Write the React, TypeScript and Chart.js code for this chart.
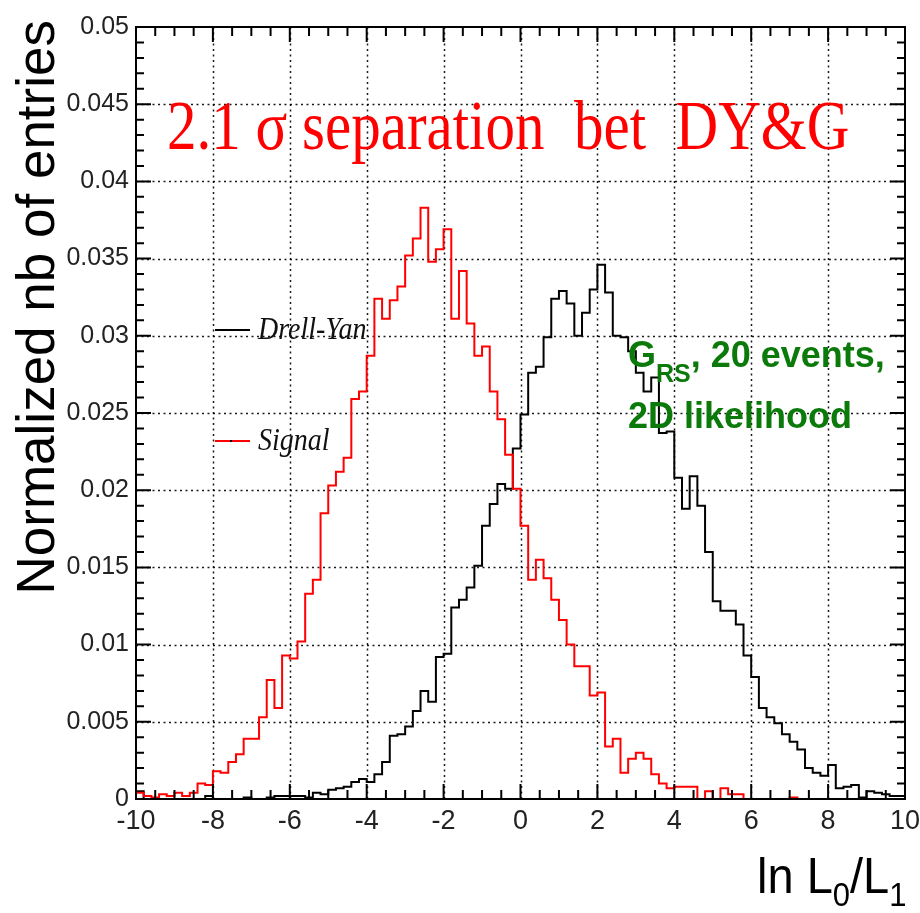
import React, { useEffect, useRef } from 'react';
import { Chart, registerables } from 'chart.js';

Chart.register(...registerables);

// ---- data ----
const X_MIN = -10;
const X_MAX = 10;
const BIN_WIDTH = 0.2;

// Drell-Yan (black), 100 bins of 0.2 starting at -10
const drellYan = [
  0, 0.0005, 0, 0, 0, 0, 0, 0, 0, 0,
  0.0002, 0, 0, 0, 0, 0.0001, 0, 0, 0.0001, 0.0002,
  0.0002, 0.0002, 0.0002, 0.0001, 0.0004, 0.0003, 0.0006, 0.0007, 0.0008, 0.0011,
  0.0013, 0.0011, 0.0016, 0.0024, 0.0041, 0.0042, 0.0047, 0.0057, 0.0070, 0.0063,
  0.0092, 0.0094, 0.0124, 0.0129, 0.0137, 0.0151, 0.0177, 0.0191, 0.0204, 0.0201,
  0.0227, 0.0249, 0.0276, 0.0280, 0.0299, 0.0324, 0.0329, 0.0321, 0.0300, 0.0315,
  0.0330, 0.0346, 0.0328, 0.0300, 0.0299, 0.0290, 0.0276, 0.0264, 0.0273, 0.0237,
  0.0238, 0.0208, 0.0188, 0.0209, 0.0190, 0.0160, 0.0128, 0.0122, 0.0122, 0.0113,
  0.0093, 0.0079, 0.0059, 0.0053, 0.0049, 0.0042, 0.0037, 0.0032, 0.0020, 0.0017,
  0.0015, 0.0022, 0.0007, 0.0008, 0.0009, 0.0001, 0.0005, 0.0004, 0.0003, 0.0002,
];

// Signal (red)
const signal = [
  0, 0.0004, 0.0002, 0.0001, 0.0003, 0.0002, 0.0004, 0.0002, 0.0004, 0.0010,
  0.0009, 0.0018, 0.0017, 0.0024, 0.0029, 0.0039, 0.0039, 0.0053, 0.0077, 0.0059,
  0.0093, 0.0091, 0.0102, 0.0133, 0.0142, 0.0185, 0.0203, 0.0212, 0.0221, 0.0259,
  0.0264, 0.0287, 0.0324, 0.0311, 0.0323, 0.0332, 0.0352, 0.0363, 0.0383, 0.0348,
  0.0356, 0.0369, 0.0311, 0.0342, 0.0308, 0.0287, 0.0293, 0.0264, 0.0246, 0.0223,
  0.0201, 0.0177, 0.0142, 0.0155, 0.0143, 0.0129, 0.0116, 0.0100, 0.0086, 0.0086,
  0.0067, 0.0069, 0.0034, 0.0039, 0.0017, 0.0026, 0.0030, 0.0026, 0.0016, 0.0010,
  0.0007, 0.0008, 0.0008, 0.0008, 0, 0.0005, 0, 0.0007, 0.0003, 0.0003,
  0, 0, 0, 0, 0, 0, 0.0001, 0, 0, 0,
  0, 0, 0, 0, 0, 0, 0, 0, 0, 0,
];

const SERIES_NAMES = ['Drell-Yan', 'Signal'];
const TITLE = '2.1 \u03c3 separation  bet  DY&G';
const Y_TITLE = 'Normalized nb of entries';
const NOTE_MAIN = 'G';
const NOTE_SUB = 'RS';
const NOTE_REST = ', 20 events,';
const NOTE_LINE2 = '2D likelihood';

const Y_MIN = 0;
const Y_MAX = 0.05;
const Y_STEP = 0.005;
const X_STEP = 2;

function toSteps(values: number[]) {
  const pts = values.map((v, i) => ({ x: X_MIN + i * BIN_WIDTH, y: v }));
  pts.push({ x: X_MIN + values.length * BIN_WIDTH, y: values[values.length - 1] });
  return pts;
}

function txt(ctx: CanvasRenderingContext2D, s: string, x: number, y: number, font: string, color: string, align: CanvasTextAlign = 'left', sy = 1) {
  ctx.save();
  ctx.translate(x, y);
  ctx.scale(1, sy);
  ctx.font = font;
  ctx.fillStyle = color;
  ctx.textAlign = align;
  ctx.textBaseline = 'alphabetic';
  ctx.fillText(s, 0, 0);
  const w = ctx.measureText(s).width;
  ctx.restore();
  return w;
}

const rootStyle = {
  id: 'rootStyle',
  beforeDatasetsDraw(chart: any) {
    const { ctx, chartArea: a, scales } = chart;
    const xs = scales.x, ys = scales.y;
    ctx.save();
    ctx.strokeStyle = 'rgba(0,0,0,0.9)';
    ctx.lineWidth = 1.5;
    ctx.setLineDash([2, 3.5]);
    xs.ticks.forEach((t: any) => {
      if (t.value <= X_MIN || t.value >= X_MAX) return;
      const px = Math.round(xs.getPixelForValue(t.value)) + 0.5;
      ctx.beginPath(); ctx.moveTo(px, a.top); ctx.lineTo(px, a.bottom); ctx.stroke();
    });
    ys.ticks.forEach((t: any) => {
      if (t.value <= Y_MIN + 1e-9 || t.value >= Y_MAX - 1e-9) return;
      const py = Math.round(ys.getPixelForValue(t.value)) + 0.5;
      ctx.beginPath(); ctx.moveTo(a.left, py); ctx.lineTo(a.right, py); ctx.stroke();
    });
    ctx.restore();
  },
  afterDatasetsDraw(chart: any) {
    const { ctx, chartArea: a, scales } = chart;
    const xs = scales.x, ys = scales.y;
    ctx.save();
    ctx.strokeStyle = '#000';
    ctx.lineWidth = 2;
    ctx.setLineDash([]);
    ctx.strokeRect(a.left, a.top, a.right - a.left, a.bottom - a.top);
    for (let k = 0; k <= 50; k++) {
      const v = k * 0.001;
      const py = ys.getPixelForValue(v);
      const len = k % 5 === 0 ? 15 : 8;
      ctx.beginPath();
      ctx.moveTo(a.left, py); ctx.lineTo(a.left + len, py);
      ctx.moveTo(a.right, py); ctx.lineTo(a.right - len, py);
      ctx.stroke();
    }
    for (let k = 0; k <= 40; k++) {
      const v = X_MIN + k * 0.5;
      const px = xs.getPixelForValue(v);
      const len = k % 4 === 0 ? 15 : 9;
      ctx.beginPath();
      ctx.moveTo(px, a.bottom); ctx.lineTo(px, a.bottom - len);
      ctx.moveTo(px, a.top); ctx.lineTo(px, a.top + len);
      ctx.stroke();
    }
    ctx.restore();
  },
  afterDraw(chart: any) {
    const { ctx } = chart;
    // title
    txt(ctx, TITLE, 167, 149, '59px "Liberation Serif", "DejaVu Serif", serif', '#ff0000', 'left', 1.2);
    // y title (rotated)
    ctx.save();
    ctx.translate(54, 20);
    ctx.rotate(-Math.PI / 2);
    ctx.font = '53px "Liberation Sans", Arial, sans-serif';
    ctx.fillStyle = '#000';
    ctx.textAlign = 'right';
    ctx.fillText(Y_TITLE, 0, 0);
    ctx.restore();
    // x title: ln L0/L1
    const f1 = '47px "Liberation Sans", Arial, sans-serif';
    const f2 = '31px "Liberation Sans", Arial, sans-serif';
    let x = 757;
    x += txt(ctx, 'ln L', x, 893, f1, '#000', 'left', 1.08);
    x += txt(ctx, '0', x, 906, f2, '#000', 'left', 1.08);
    x += txt(ctx, '/L', x, 893, f1, '#000', 'left', 1.08);
    txt(ctx, '1', x, 906, f2, '#000', 'left', 1.08);
    // legend
    const lf = 'italic 28px "Liberation Serif", "DejaVu Serif", serif';
    ctx.save();
    ctx.lineWidth = 2;
    ctx.strokeStyle = '#000';
    ctx.beginPath(); ctx.moveTo(215, 330); ctx.lineTo(250, 330); ctx.stroke();
    ctx.strokeStyle = '#ff0000';
    ctx.beginPath(); ctx.moveTo(215, 441); ctx.lineTo(250, 441); ctx.stroke();
    ctx.fillStyle = '#000';
    ctx.fillRect(230, 440, 2, 2);
    ctx.restore();
    txt(ctx, SERIES_NAMES[0], 258, 339, lf, '#111', 'left', 1.1);
    txt(ctx, SERIES_NAMES[1], 258, 450, lf, '#111', 'left', 1.1);
    // green note
    const gf = 'bold 36px "Liberation Sans", Arial, sans-serif';
    const gs = 'bold 25px "Liberation Sans", Arial, sans-serif';
    const green = '#0b7a0b';
    let gx = 628;
    gx += txt(ctx, NOTE_MAIN, gx, 367, gf, green);
    gx += txt(ctx, NOTE_SUB, gx, 382, gs, green);
    txt(ctx, NOTE_REST, gx, 367, gf, green);
    txt(ctx, NOTE_LINE2, 628, 428, gf, green);
  },
};

export default function App() {
  const ref = useRef<HTMLCanvasElement | null>(null);
  useEffect(() => {
    if (!ref.current) return;
    const chart = new Chart(ref.current, {
      type: 'line',
      data: {
        datasets: [
          {
            label: SERIES_NAMES[1],
            data: toSteps(signal),
            borderColor: '#ff0000',
            borderWidth: 2,
            stepped: 'after',
            pointRadius: 0,
            fill: false,
            order: 0,
          },
          {
            label: SERIES_NAMES[0],
            data: toSteps(drellYan),
            borderColor: '#000000',
            borderWidth: 2,
            stepped: 'after',
            pointRadius: 0,
            fill: false,
            order: 1,
          },
        ],
      },
      options: {
        animation: false,
        responsive: false,
        devicePixelRatio: 1,
        layout: { padding: { left: 0, right: 15, top: 27, bottom: 0 } },
        plugins: { legend: { display: false }, tooltip: { enabled: false }, title: { display: false } },
        scales: {
          x: {
            type: 'linear',
            min: X_MIN,
            max: X_MAX,
            ticks: {
              stepSize: X_STEP,
              padding: 6,
              color: '#222',
              font: { family: '"Liberation Sans", Arial, sans-serif', size: 27 },
              maxRotation: 0,
              autoSkip: false,
            },
            grid: { display: false, drawTicks: false },
            border: { display: false },
            afterFit: (s: any) => { s.height = 114; s.paddingLeft = 0; s.paddingRight = 0; },
          },
          y: {
            min: Y_MIN,
            max: Y_MAX,
            ticks: {
              stepSize: Y_STEP,
              padding: 7,
              color: '#222',
              font: { family: '"Liberation Sans", Arial, sans-serif', size: 25 },
              autoSkip: false,
              callback: (v: any) => String(Math.round(Number(v) * 1000) / 1000),
            },
            grid: { display: false, drawTicks: false },
            border: { display: false },
            afterFit: (s: any) => { s.width = 136; s.paddingTop = 0; s.paddingBottom = 0; },
          },
        },
      },
      plugins: [rootStyle],
    });
    return () => chart.destroy();
  }, []);
  return (
    <div style={{ position: 'absolute', left: 0, top: 0, width: 920, height: 913, background: '#fff' }}>
      <canvas ref={ref} width={920} height={913} />
    </div>
  );
}
